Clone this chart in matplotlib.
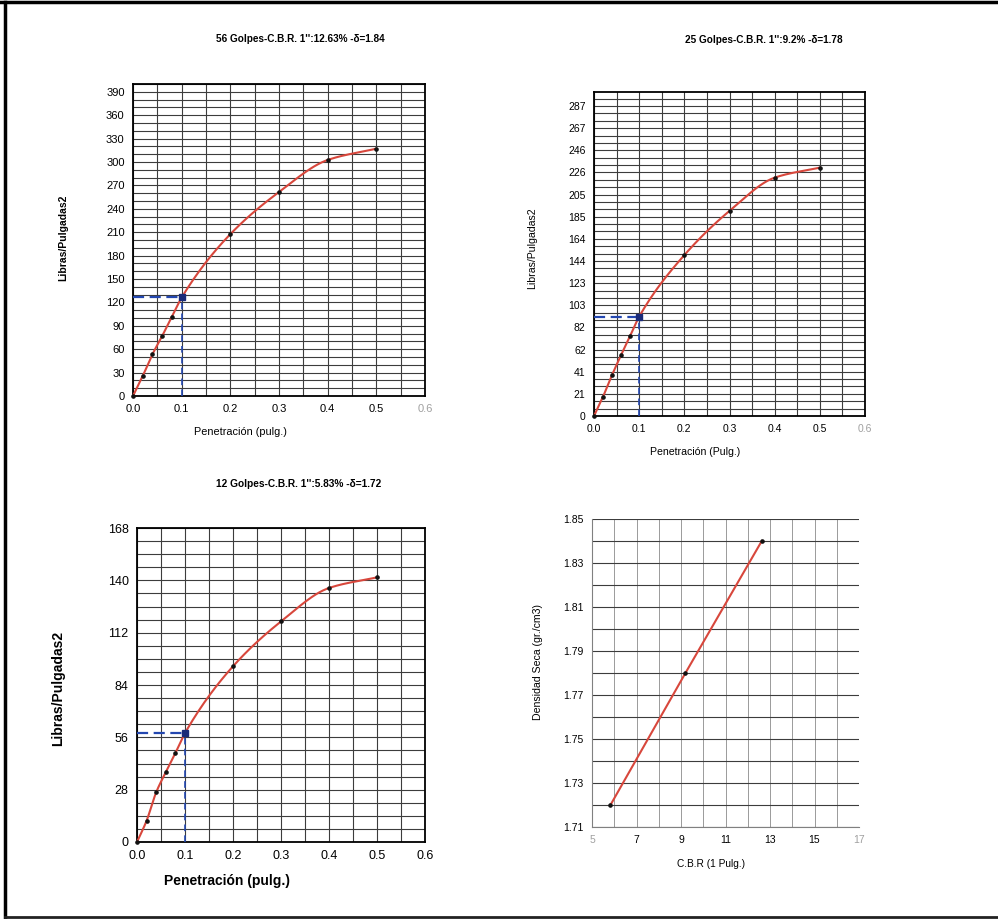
import numpy as np
import matplotlib
matplotlib.use("Agg")
import matplotlib.pyplot as plt
from matplotlib.lines import Line2D

plt.rcParams['font.family'] = ['Liberation Sans', 'DejaVu Sans']

W, H = 998, 919

# penetration readings (in) and loads (lb/in2) for each compaction
pen = [0.0, 0.02, 0.04, 0.06, 0.08, 0.1, 0.2, 0.3, 0.4, 0.5]
load_56 = [0, 25.7, 53.5, 77.0, 101.8, 126.3, 207.5, 261.5, 302.6, 317.1]
load_25 = [0, 17.9, 38.0, 56.5, 74.1, 92.0, 149.0, 189.9, 220.7, 230.0]
load_12 = [0, 11.4, 26.6, 37.4, 47.6, 58.3, 94.0, 118.0, 135.9, 141.6]

# CBR at 1" vs dry density
cbr = [5.83, 9.2, 12.63]
dens = [1.72, 1.78, 1.84]

titles = ["56 Golpes-C.B.R. 1'':12.63% -δ=1.84",
          "25 Golpes-C.B.R. 1'':9.2% -δ=1.78",
          "12 Golpes-C.B.R. 1'':5.83% -δ=1.72"]

x_ticks = [0.0, 0.1, 0.2, 0.3, 0.4, 0.5, 0.6]
y_ticks_56 = list(range(0, 391, 30))
y_ticks_25 = [0, 20.5, 41, 61.5, 82, 102.5, 123, 143.5, 164, 184.5, 205, 225.5, 246, 266.5, 287]
y_labels_25 = ['0', '21', '41', '62', '82', '103', '123', '144', '164', '185',
               '205', '226', '246', '267', '287']
y_ticks_12 = [0, 28, 56, 84, 112, 140, 168]
cbr_ticks = [5, 7, 9, 11, 13, 15, 17]
dens_ticks = [1.71, 1.73, 1.75, 1.77, 1.79, 1.81, 1.83, 1.85]

RED = '#d8473c'
BLUE = '#2347b0'


def smooth(x, y, n=25):
    # monotone cubic (Fritsch-Carlson) through the readings
    x = np.asarray(x, float)
    y = np.asarray(y, float)
    h = np.diff(x)
    d = np.diff(y) / h
    m = np.zeros_like(y)
    m[0], m[-1] = d[0], d[-1]
    for k in range(1, len(x) - 1):
        if d[k - 1] * d[k] > 0:
            w1 = 2 * h[k] + h[k - 1]
            w2 = h[k] + 2 * h[k - 1]
            m[k] = (w1 + w2) / (w1 / d[k - 1] + w2 / d[k])
    xs, ys = [], []
    for k in range(len(x) - 1):
        t = np.linspace(0, 1, n, endpoint=False)
        h00 = 2 * t**3 - 3 * t**2 + 1
        h10 = t**3 - 2 * t**2 + t
        h01 = -2 * t**3 + 3 * t**2
        h11 = t**3 - t**2
        xs.append(x[k] + t * h[k])
        ys.append(h00 * y[k] + h10 * h[k] * m[k] + h01 * y[k + 1] + h11 * h[k] * m[k + 1])
    xs.append([x[-1]])
    ys.append([y[-1]])
    return np.concatenate(xs), np.concatenate(ys)


def place(l, t, r, b):
    return fig.add_axes([l / W, 1 - b / H, (r - l) / W, (b - t) / H])


def ftext(x, y, s, **kw):
    fig.text(x / W, 1 - y / H, s, ha='center', va='center', **kw)


def cbr_panel(ax, load, ymax, yticks, ylabels, minor_step, fs):
    ax.set_xlim(0, 0.6)
    ax.set_ylim(0, ymax)
    ax.set_xticks(x_ticks, labels=['%.1f' % v for v in x_ticks])
    ax.set_xticks(np.arange(0, 0.601, 0.05), minor=True)
    ax.set_yticks(yticks, labels=ylabels)
    ax.set_yticks(np.arange(0, ymax + 1e-6, minor_step), minor=True)
    ax.grid(which='both', color='#3c3c3c', lw=0.8, zorder=1)
    ax.tick_params(which='both', length=0, labelsize=fs, pad=6)
    ax.get_xticklabels()[-1].set_color('#a0a0a0')
    for s in ax.spines.values():
        s.set_color('black')
        s.set_linewidth(1.3)
    ax.set_axisbelow(True)

    v = load[pen.index(0.1)]
    ax.plot([0, 0.1], [v, v], ls=(0, (5, 2.5)), color=BLUE, lw=1.6, zorder=3)
    ax.plot([0.1, 0.1], [0, v], ls=(0, (4, 2.5)), color=BLUE, lw=1.2, zorder=3)

    sx, sy = smooth(pen, load)
    ax.plot(sx, sy, color=RED, lw=1.5, zorder=4, clip_on=False)
    ax.plot(pen, load, ls='none', marker='o', ms=2.3, color='#111111', zorder=5, clip_on=False)
    ax.plot([0.1], [v], ls='none', marker='s', ms=5, color='#1a2a78', zorder=6)


fig = plt.figure(figsize=(W / 100, H / 100), dpi=100)

# 56 blows
ax1 = place(133, 84, 425, 396)
cbr_panel(ax1, load_56, 400, y_ticks_56, [str(v) for v in y_ticks_56], 10, 8)
ftext(300, 39, titles[0], fontsize=7.2, fontweight='bold')
ftext(240, 432, 'Penetración (pulg.)', fontsize=7.8)
ftext(63, 238, 'Libras/Pulgadas2', fontsize=7.5, fontweight='bold', rotation=90)

# 25 blows
ax2 = place(594, 92, 865, 416)
cbr_panel(ax2, load_25, 300, y_ticks_25, y_labels_25, 20.5 / 3, 7.5)
ftext(764, 40, titles[1], fontsize=7.2, fontweight='bold')
ftext(695, 452, 'Penetración (Pulg.)', fontsize=7.6)
ftext(532, 248, 'Libras/Pulgadas2', fontsize=7.6, rotation=90)

# 12 blows
ax3 = place(137, 528, 425, 842)
cbr_panel(ax3, load_12, 168, y_ticks_12, [str(v) for v in y_ticks_12], 7, 9)
ax3.get_xticklabels()[-1].set_color('black')
ftext(299, 484, titles[2], fontsize=7.3, fontweight='bold')
ftext(227, 881, 'Penetración (pulg.)', fontsize=10, fontweight='bold')
ftext(58, 688, 'Libras/Pulgadas2', fontsize=10, fontweight='bold', rotation=90)

# CBR vs dry density
ax4 = place(592, 519, 859, 827)
ax4.set_xlim(5, 17)
ax4.set_ylim(1.71, 1.85)
ax4.set_xticks(cbr_ticks, labels=[str(v) for v in cbr_ticks])
ax4.set_xticks(np.arange(5, 17.01, 1), minor=True)
ax4.set_yticks(dens_ticks, labels=['%.2f' % v for v in dens_ticks])
ax4.set_yticks(np.arange(1.71, 1.8501, 0.01), minor=True)
ax4.grid(which='both', axis='y', color='#3c3c3c', lw=0.8)
ax4.grid(which='both', axis='x', color='#9a9a9a', lw=0.7)
ax4.tick_params(which='both', length=0, labelsize=7.5, pad=6)
ax4.get_xticklabels()[0].set_color('#a0a0a0')
ax4.get_xticklabels()[-1].set_color('#a0a0a0')
for side in ['top', 'right']:
    ax4.spines[side].set_visible(False)
for side in ['left', 'bottom']:
    ax4.spines[side].set_color('#808080')
ax4.set_axisbelow(True)
ax4.plot(cbr, dens, color=RED, lw=1.5, zorder=4)
ax4.plot(cbr, dens, ls='none', marker='o', ms=2.3, color='#111111', zorder=5)
ftext(711, 864, 'C.B.R (1 Pulg.)', fontsize=7.3)
ftext(538, 662, 'Densidad Seca (gr./cm3)', fontsize=7.6, rotation=90)

# sheet border
fig.add_artist(Line2D([0, 1], [1 - 2 / H, 1 - 2 / H], color='black', lw=2.5))
fig.add_artist(Line2D([5 / W, 5 / W], [1 - 917 / H, 1 - 2 / H], color='black', lw=2.5))
fig.add_artist(Line2D([5 / W, 1], [1 - 917 / H, 1 - 917 / H], color='#222222', lw=2))

fig.savefig('out.png', dpi=100, facecolor='white')
